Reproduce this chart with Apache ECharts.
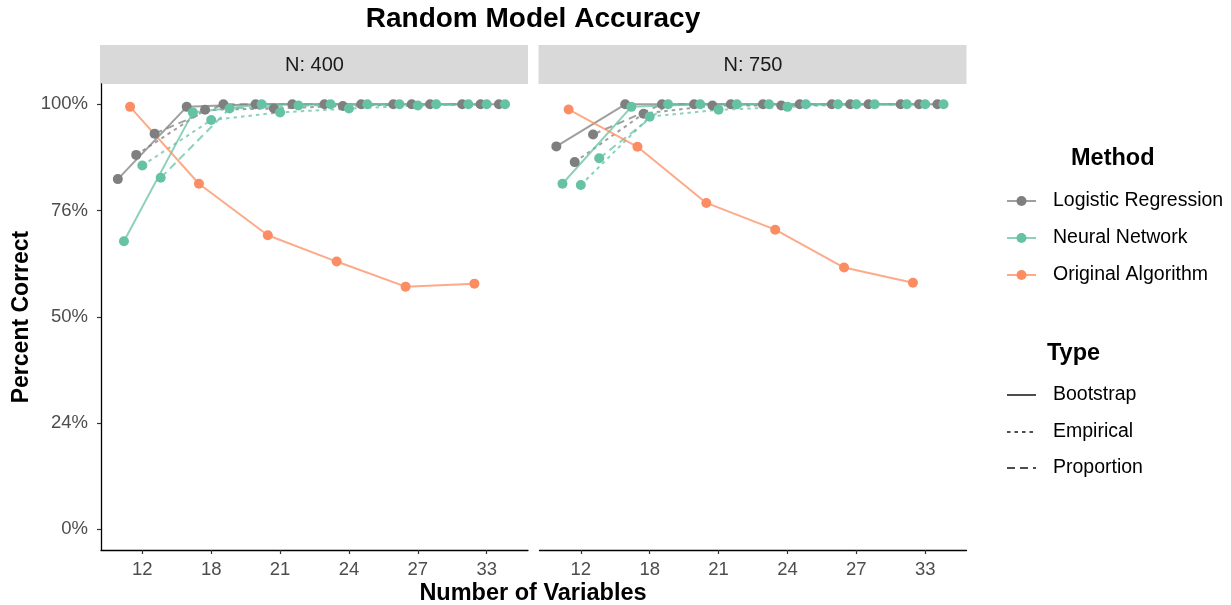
<!DOCTYPE html>
<html>
<head>
<meta charset="utf-8">
<script src="https://cdn.jsdelivr.net/npm/echarts@6/dist/echarts.min.js"></script>
<style>
html,body{margin:0;padding:0;background:#fff;}
#chart{width:1231px;height:605px;}
</style>
</head>
<body>
<div id="chart"></div>
<script>
// ---------------- DATA ----------------
const categories = ['12', '18', '21', '24', '27', '33'];
const panels = ['N: 400', 'N: 750'];
const methods = ['Logistic Regression', 'Neural Network', 'Original Algorithm'];
const types = ['Bootstrap', 'Empirical', 'Proportion'];
const yTickValues = [0, 25, 50, 75, 100];
const yTickLabels = ['0%', '24%', '50%', '76%', '100%'];

// N: 400
const n400_LR_Bootstrap  = [82.4, 99.4, 100, 100, 100, 100];
const n400_LR_Empirical  = [88.1, 98.7, 99.0, 99.6, 100, 100];
const n400_LR_Proportion = [93.1, 100, 100, 100, 100, 100];
const n400_NN_Bootstrap  = [67.8, 98.1, 100, 100, 100, 100];
const n400_NN_Empirical  = [85.6, 96.3, 98.1, 99.0, 99.7, 100];
const n400_NN_Proportion = [82.7, 99.0, 99.7, 100, 100, 100];
const n400_OA_Bootstrap  = [99.4, 81.3, 69.2, 63.0, 57.1, 57.8];

// N: 750
const n750_LR_Bootstrap  = [90.1, 100, 100, 100, 100, 100];
const n750_LR_Empirical  = [86.4, 97.8, 99.7, 99.7, 100, 100];
const n750_LR_Proportion = [92.9, 100, 100, 100, 100, 100];
const n750_NN_Bootstrap  = [81.3, 99.4, 100, 100, 100, 100];
const n750_NN_Empirical  = [81.0, 97.1, 98.7, 99.4, 100, 100];
const n750_NN_Proportion = [87.3, 100, 100, 100, 100, 100];
const n750_OA_Bootstrap  = [98.8, 90.0, 76.8, 70.5, 61.6, 58.0];

// ---------------- STYLE ----------------
const methodColors = ['#7f7f7f', '#66c2a5', '#fc8d62'];
const typeDash = ['solid', [3.5, 4], [8, 5]];
const FONT = "'Liberation Sans', Arial, sans-serif";

// groups: [panelIdx, methodIdx, typeIdx, values]
const groups = [
  [0, 0, 0, n400_LR_Bootstrap], [0, 0, 1, n400_LR_Empirical], [0, 0, 2, n400_LR_Proportion],
  [0, 1, 0, n400_NN_Bootstrap], [0, 1, 1, n400_NN_Empirical], [0, 1, 2, n400_NN_Proportion],
  [0, 2, 0, n400_OA_Bootstrap],
  [1, 0, 0, n750_LR_Bootstrap], [1, 0, 1, n750_LR_Empirical], [1, 0, 2, n750_LR_Proportion],
  [1, 1, 0, n750_NN_Bootstrap], [1, 1, 1, n750_NN_Empirical], [1, 1, 2, n750_NN_Proportion],
  [1, 2, 0, n750_OA_Bootstrap]
];

// position dodge (width 0.8, 9 method x type groups)
const DODGE = 0.8, NGROUP = 9;
function dodgeX(catIdx, methodIdx, typeIdx) {
  const g = typeIdx * 3 + methodIdx;
  return (catIdx + 1) + DODGE * (g + 0.5) / NGROUP - DODGE / 2;
}

const series = [];
groups.forEach(([p, m, t, vals]) => {
  const data = vals.map((v, i) => [dodgeX(i, m, t), v]);
  series.push({
    type: 'line', xAxisIndex: p, yAxisIndex: p, data: data,
    symbol: 'none', silent: true, z: 2,
    lineStyle: { color: methodColors[m], width: 2, type: typeDash[t], opacity: 0.75 }
  });
});
groups.forEach(([p, m, t, vals]) => {
  const data = vals.map((v, i) => [dodgeX(i, m, t), v]);
  series.push({
    type: 'scatter', xAxisIndex: p, yAxisIndex: p, data: data,
    symbol: 'circle', symbolSize: 10, silent: true, z: 3,
    itemStyle: { color: methodColors[m], opacity: 1 }
  });
});

const gridLefts = [101, 539.5];
const GRID_W = 427, GRID_TOP = 84, GRID_H = 466;

const grids = gridLefts.map(l => ({ left: l, top: GRID_TOP, width: GRID_W, height: GRID_H }));
const catIdxs = categories.map((c, i) => i + 1);

const xAxes = [0, 1].map(p => ({
  type: 'value', gridIndex: p, min: 0.4, max: 6.6,
  axisLine: { show: true, onZero: false, lineStyle: { color: '#000', width: 1.3 } },
  axisTick: { show: true, length: 4, customValues: catIdxs, lineStyle: { color: '#333', width: 1.2 } },
  axisLabel: {
    customValues: catIdxs, margin: 10, color: '#4d4d4d', fontSize: 18.5, fontFamily: FONT,
    formatter: v => categories[Math.round(v) - 1]
  },
  splitLine: { show: false }
}));

const yAxes = [0, 1].map(p => ({
  type: 'value', gridIndex: p, min: -4.87, max: 104.78,
  show: p === 0,
  axisLine: { show: true, onZero: false, lineStyle: { color: '#000', width: 1.3 } },
  axisTick: { show: true, length: 4, customValues: yTickValues, lineStyle: { color: '#333', width: 1.2 } },
  axisLabel: {
    customValues: yTickValues, margin: 13, color: '#4d4d4d', fontSize: 18.5, fontFamily: FONT,
    formatter: v => yTickLabels[yTickValues.indexOf(Math.round(v))]
  },
  splitLine: { show: false }
}));

// ---------------- GRAPHIC (titles, strips, legend) ----------------
const graphic = [];
graphic.push({
  type: 'text', x: 533, y: 19,
  style: { text: 'Random Model Accuracy', font: 'bold 28px ' + FONT, fill: '#000', textAlign: 'center', textVerticalAlign: 'middle' }
});
graphic.push({
  type: 'text', x: 533, y: 594,
  style: { text: 'Number of Variables', font: 'bold 23.5px ' + FONT, fill: '#000', textAlign: 'center', textVerticalAlign: 'middle' }
});
graphic.push({
  type: 'text', x: 22, y: 317, rotation: Math.PI / 2,
  style: { text: 'Percent Correct', font: 'bold 23px ' + FONT, fill: '#000', textAlign: 'center', textVerticalAlign: 'middle' }
});
panels.forEach((name, p) => {
  graphic.push({
    type: 'rect', shape: { x: gridLefts[p] - 1, y: 45, width: GRID_W + 1, height: 39 },
    style: { fill: '#d9d9d9' }
  });
  graphic.push({
    type: 'text', x: gridLefts[p] + GRID_W / 2, y: 65,
    style: { text: name, font: '20px ' + FONT, fill: '#1a1a1a', textAlign: 'center', textVerticalAlign: 'middle' }
  });
});

// Legend: Method
graphic.push({
  type: 'text', x: 1071, y: 159,
  style: { text: 'Method', font: 'bold 23.5px ' + FONT, fill: '#000', textAlign: 'left', textVerticalAlign: 'middle' }
});
const methodRowsY = [201, 238, 275];
methods.forEach((m, i) => {
  const y = methodRowsY[i];
  graphic.push({ type: 'line', shape: { x1: 1007, y1: y, x2: 1036, y2: y }, style: { stroke: methodColors[i], lineWidth: 2, opacity: 0.75 } });
  graphic.push({ type: 'circle', shape: { cx: 1021.5, cy: y, r: 5 }, style: { fill: methodColors[i] } });
  graphic.push({ type: 'text', x: 1053, y: y, style: { text: m, font: '19.5px ' + FONT, fill: '#000', textAlign: 'left', textVerticalAlign: 'middle' } });
});

// Legend: Type
graphic.push({
  type: 'text', x: 1047, y: 354,
  style: { text: 'Type', font: 'bold 23.5px ' + FONT, fill: '#000', textAlign: 'left', textVerticalAlign: 'middle' }
});
const typeRowsY = [395, 432, 468];
types.forEach((t, i) => {
  const y = typeRowsY[i];
  graphic.push({
    type: 'line', shape: { x1: 1007, y1: y, x2: 1036, y2: y },
    style: { stroke: '#4d4d4d', lineWidth: 2, lineDash: i === 0 ? null : typeDash[i] }
  });
  graphic.push({ type: 'text', x: 1053, y: y, style: { text: t, font: '19.5px ' + FONT, fill: '#000', textAlign: 'left', textVerticalAlign: 'middle' } });
});

const chart = echarts.init(document.getElementById('chart'), null, { renderer: 'canvas' });
chart.setOption({
  animation: false,
  backgroundColor: '#fff',
  grid: grids,
  xAxis: xAxes,
  yAxis: yAxes,
  series: series,
  graphic: graphic
});
</script>
</body>
</html>
